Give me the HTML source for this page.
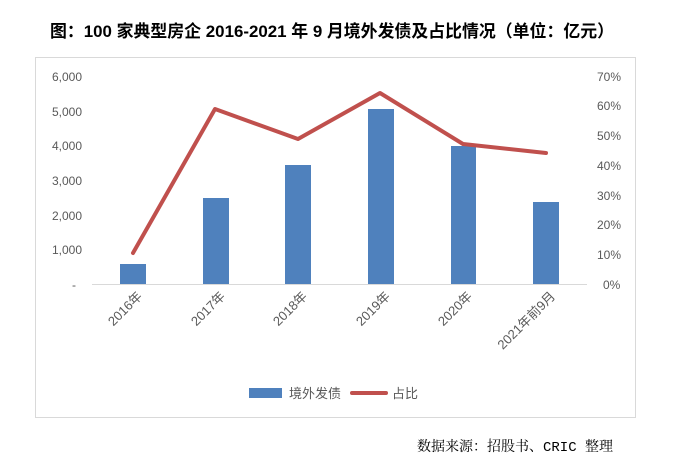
<!DOCTYPE html>
<html><head><meta charset="utf-8"><style>
body{margin:0;background:#fff;width:676px;height:469px;overflow:hidden}
svg{display:block}
</style></head><body>
<svg width="676" height="469" xmlns="http://www.w3.org/2000/svg" font-family="Liberation Sans, Noto Sans CJK SC, sans-serif">
<text x="332" y="37" text-anchor="middle" font-size="17" font-weight="bold" fill="#000" textLength="564" lengthAdjust="spacingAndGlyphs">图：100 家典型房企 2016-2021 年 9 月境外发债及占比情况（单位：亿元）</text>
<rect x="35.5" y="57.5" width="600" height="360" fill="#fff" stroke="#d9d9d9"/>
<g font-size="12" fill="#595959" text-anchor="end">
<text x="82" y="81">6,000</text><text x="82" y="116">5,000</text><text x="82" y="150">4,000</text>
<text x="82" y="185">3,000</text><text x="82" y="220">2,000</text><text x="82" y="254">1,000</text><text x="76" y="289">-</text>
</g>
<g font-size="12" fill="#595959">
<text x="597" y="81">70%</text><text x="597" y="110">60%</text><text x="597" y="140">50%</text><text x="597" y="170">40%</text>
<text x="597" y="200">30%</text><text x="597" y="229">20%</text><text x="597" y="259">10%</text><text x="603" y="289">0%</text>
</g>
<line x1="92" y1="284.5" x2="587" y2="284.5" stroke="#d9d9d9"/>
<g fill="#4f81bd">
<rect x="120" y="264" width="26" height="20"/>
<rect x="203" y="198" width="26" height="86"/>
<rect x="285" y="165" width="26" height="119"/>
<rect x="368" y="109" width="26" height="175"/>
<rect x="451" y="146" width="25" height="138"/>
<rect x="533" y="202" width="26" height="82"/>
</g>
<polyline points="133,253 215,109 298,139 380,93 463,144 546,153" fill="none" stroke="#c0504d" stroke-width="4" stroke-linejoin="round" stroke-linecap="round"/>
<g font-size="13" fill="#595959" text-anchor="end">
<text transform="translate(143,297) rotate(-45)">2016年</text>
<text transform="translate(226,297) rotate(-45)">2017年</text>
<text transform="translate(308,297) rotate(-45)">2018年</text>
<text transform="translate(391,297) rotate(-45)">2019年</text>
<text transform="translate(473,297) rotate(-45)">2020年</text>
<text transform="translate(556,297) rotate(-45)">2021年前9月</text>
</g>
<rect x="249" y="388" width="33" height="10" fill="#4f81bd"/>
<text x="289" y="398" font-size="13" fill="#595959">境外发债</text>
<line x1="352" y1="393" x2="386" y2="393" stroke="#c0504d" stroke-width="4" stroke-linecap="round"/>
<text x="392" y="398" font-size="13" fill="#595959">占比</text>
<text x="613" y="451" font-size="14" fill="#000" text-anchor="end" font-family="Liberation Mono, Noto Serif CJK SC, serif" textLength="196" lengthAdjust="spacingAndGlyphs">数据来源：招股书、CRIC 整理</text>
</svg>
</body></html>
